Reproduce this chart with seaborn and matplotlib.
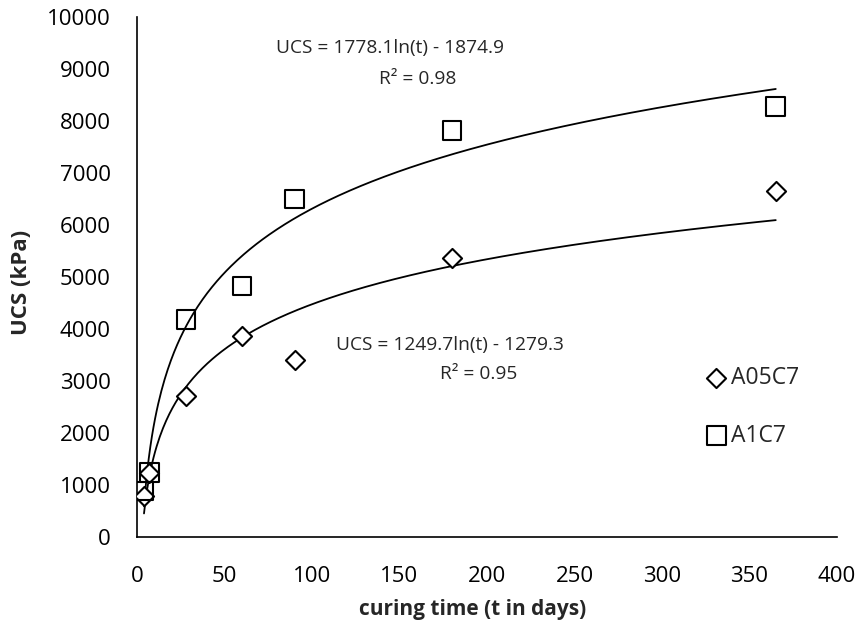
import numpy as np
import pandas as pd
import matplotlib
matplotlib.use('Agg')
import matplotlib.pyplot as plt
import seaborn as sns

# curing times (days) and UCS values (kPa)
days = [4, 7, 28, 60, 90, 180, 365]
ucs_a05c7 = [780, 1230, 2710, 3865, 3405, 5360, 6645]
ucs_a1c7 = [885, 1237, 4180, 4827, 6500, 7815, 8275]

# log trendline coefficients (from the chart labels)
fit_a05c7 = (1249.7, -1279.3)
fit_a1c7 = (1778.1, -1874.9)

sns.set_style('white')
plt.rcParams['font.family'] = ['Open Sans', 'DejaVu Sans']
plt.rcParams['font.size'] = 15

df = pd.DataFrame({'t': days * 2,
                   'ucs': ucs_a05c7 + ucs_a1c7,
                   'mix': ['A05C7'] * len(days) + ['A1C7'] * len(days)})

tt = np.linspace(min(days), max(days), 400)
trend = pd.DataFrame({'t': np.concatenate([tt, tt]),
                      'ucs': np.concatenate([fit_a05c7[0] * np.log(tt) + fit_a05c7[1],
                                             fit_a1c7[0] * np.log(tt) + fit_a1c7[1]]),
                      'mix': ['A05C7'] * len(tt) + ['A1C7'] * len(tt)})

fig = plt.figure(figsize=(8.64, 6.33), dpi=100)
ax = fig.add_axes([137 / 864, 96 / 633, 700 / 864, 520 / 633])

sns.lineplot(data=trend, x='t', y='ucs', units='mix', estimator=None,
             color='black', lw=1.3, ax=ax, legend=False)

sns.scatterplot(data=df[df.mix == 'A05C7'], x='t', y='ucs', marker='D', s=95,
                facecolor='white', edgecolor='black', linewidth=1.5, ax=ax,
                label='A05C7', zorder=3)
sns.scatterplot(data=df[df.mix == 'A1C7'], x='t', y='ucs', marker='s', s=180,
                facecolor='none', edgecolor='black', linewidth=1.5, ax=ax,
                label='A1C7', zorder=3)

ax.set(xlim=(0, 400), ylim=(0, 10000),
       xticks=np.arange(0, 401, 50), yticks=np.arange(0, 10001, 1000))
ax.set_xlabel('curing time (t in days)', fontweight='bold', fontsize=15, va='top')
ax.set_ylabel('UCS (kPa)', fontweight='bold', fontsize=16)
ax.xaxis.set_label_coords(0.48, -0.12)
ax.yaxis.set_label_coords(-0.15, 0.489)
ax.tick_params(direction='in', length=6, width=1, colors='black', labelsize=16)
ax.tick_params(axis='x', pad=21)
ax.tick_params(axis='y', pad=19)
sns.despine(ax=ax)
for sp in ['left', 'bottom']:
    ax.spines[sp].set_color('black')
    ax.spines[sp].set_linewidth(1.2)

# trendline labels
ax.text(144.6, 9404, 'UCS = 1778.1ln(t) - 1874.9', ha='center', va='center', fontsize=13.8)
ax.text(160.6, 8808, 'R² = 0.98', ha='center', va='center', fontsize=13.8)
ax.text(178.9, 3692, 'UCS = 1249.7ln(t) - 1279.3', ha='center', va='center', fontsize=13.8)
ax.text(195.4, 3135, 'R² = 0.95', ha='center', va='center', fontsize=13.8)

ax.legend(loc='upper left', bbox_to_anchor=(0.798, 0.35), frameon=False, fontsize=16.5,
          handlelength=0.8, handletextpad=0.25, labelspacing=1.45, borderpad=0)

fig.savefig('out.png', dpi=100)
